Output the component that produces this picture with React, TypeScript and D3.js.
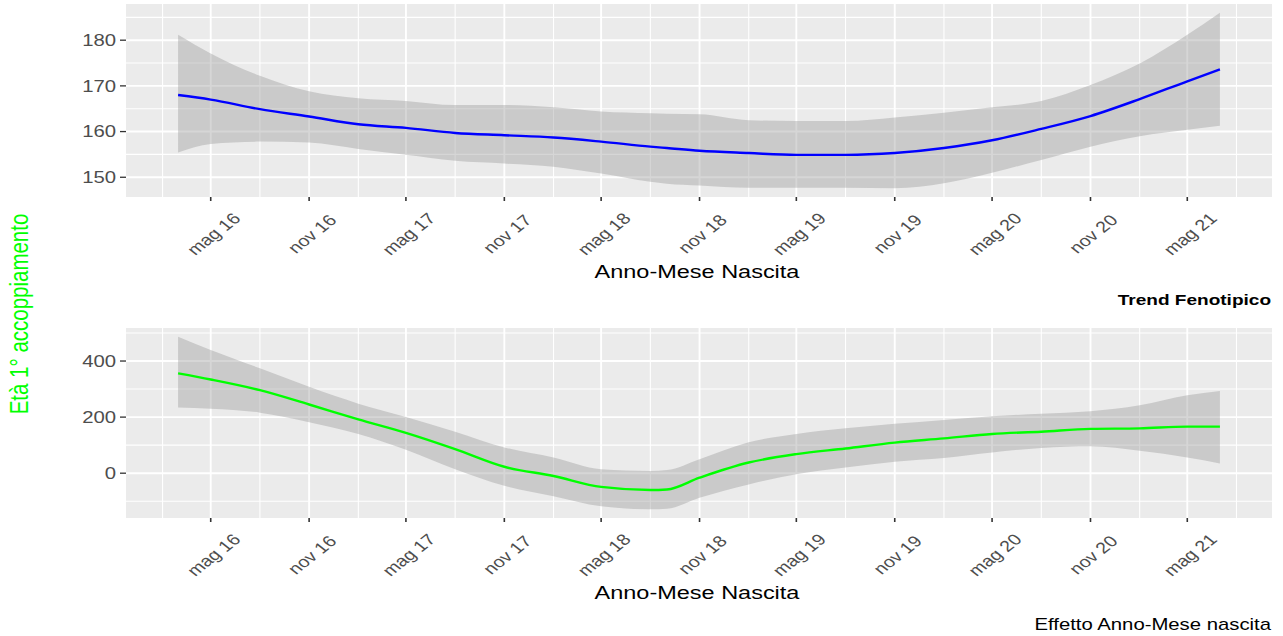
import React from "react";
import * as d3 from "d3";

// birth year-month sampled along the smoothed curves
const months = [
  "2016-03", "2016-05", "2016-08", "2016-11", "2017-02", "2017-05", "2017-08", "2017-11",
  "2018-02", "2018-05", "2018-08", "2018-09", "2018-11", "2019-02", "2019-05", "2019-08",
  "2019-11", "2020-02", "2020-05", "2020-08", "2020-11", "2021-02", "2021-05", "2021-07",
];

// Trend Fenotipico
const trendFit = [168.0, 167.0, 164.9, 163.3, 161.6, 160.8, 159.7, 159.2, 158.7, 157.8, 156.7, 156.4, 155.8, 155.3, 154.9, 154.9, 155.3, 156.4, 158.1, 160.6, 163.4, 167.1, 171.0, 173.6];
const trendUpper = [181.2, 177.1, 172.2, 168.8, 167.3, 166.7, 165.8, 165.8, 165.3, 164.4, 164.0, 163.9, 163.8, 162.5, 162.3, 162.3, 163.1, 164.1, 165.3, 166.7, 170.2, 174.9, 181.2, 186.0];
const trendLower = [155.4, 157.3, 157.8, 157.6, 156.2, 154.9, 153.6, 153.0, 152.3, 150.8, 149.0, 148.6, 148.2, 147.7, 147.7, 147.7, 147.6, 148.7, 151.0, 153.8, 156.7, 159.0, 160.4, 161.3];
const trendTicks = [150, 160, 170, 180];
const trendMinor = [145, 155, 165, 175, 185];

// Effetto Anno-Mese nascita
const effFit = [356, 334, 296, 245, 192, 144, 86, 23, -10, -49, -60, -58, -16, 38, 68, 88, 109, 124, 140, 148, 158, 160, 166, 166];
const effUpper = [487, 439, 374, 308, 248, 200, 148, 92, 56, 14, 8, 11, 50, 110, 140, 160, 176, 190, 203, 212, 221, 242, 278, 293];
const effLower = [234, 230, 216, 182, 140, 84, 14, -45, -82, -118, -129, -127, -88, -40, -4, 20, 41, 54, 74, 90, 96, 80, 56, 35];
const effTicks = [0, 200, 400];
const effMinor = [-100, 100, 300, 500];

const xTicks = ["2016-05", "2016-11", "2017-05", "2017-11", "2018-05", "2018-11", "2019-05", "2019-11", "2020-05", "2020-11", "2021-05"];
const xMinor = ["2016-02", "2016-08", "2017-02", "2017-08", "2018-02", "2018-08", "2019-02", "2019-08", "2020-02", "2020-08", "2021-02", "2021-08"];
const monthNames = ["gen", "feb", "mar", "apr", "mag", "giu", "lug", "ago", "set", "ott", "nov", "dic"];

const W = 1283;
const H = 636;
const SX = 1.27; // the source image is stretched horizontally
const FONT = "'Liberation Sans', Arial, sans-serif";
const left = 126;
const right = 1272;

const parse = d3.timeParse("%Y-%m");
const dates = months.map((m) => parse(m) as Date);
const fmt = (d: Date) => `${monthNames[d.getMonth()]} ${String(d.getFullYear()).slice(2)}`;

const ext = d3.extent(dates) as [Date, Date];
const span = +ext[1] - +ext[0];
const x = d3
  .scaleTime()
  .domain([new Date(+ext[0] - span * 0.05), new Date(+ext[1] + span * 0.05)])
  .range([left, right]);

function SText({ x: tx, y: ty, rotate = 0, children, ...rest }: any) {
  return (
    <text transform={`translate(${tx},${ty}) scale(${SX},1) rotate(${rotate})`} {...rest}>
      {children}
    </text>
  );
}

function Panel({ top, bottom, fit, upper, lower, ticks, minor, color, title, caption, captionY, captionBold, captionSize }: any) {
  const lo = d3.min(lower as number[]) as number;
  const hi = d3.max(upper as number[]) as number;
  const pad = (hi - lo) * 0.05;
  const y = d3.scaleLinear().domain([lo - pad, hi + pad]).range([bottom, top]);

  const band = d3
    .area<number>()
    .x((_, i) => x(dates[i]))
    .y0((_, i) => y(lower[i]))
    .y1((_, i) => y(upper[i]))
    .curve(d3.curveMonotoneX);
  const line = d3
    .line<number>()
    .x((_, i) => x(dates[i]))
    .y((d) => y(d))
    .curve(d3.curveMonotoneX);

  return (
    <g>
      <rect x={left} y={top} width={right - left} height={bottom - top} fill="#EBEBEB" />
      {minor.map((v: number) => (
        <line key={"hm" + v} x1={left} x2={right} y1={y(v)} y2={y(v)} stroke="#fff" strokeWidth={1.1} />
      ))}
      {xMinor.map((m) => {
        const px = x(parse(m) as Date);
        return <line key={"vm" + m} x1={px} x2={px} y1={top} y2={bottom} stroke="#fff" strokeWidth={1.1} />;
      })}
      {ticks.map((v: number) => (
        <line key={"h" + v} x1={left} x2={right} y1={y(v)} y2={y(v)} stroke="#fff" strokeWidth={1.9} />
      ))}
      {xTicks.map((m) => {
        const px = x(parse(m) as Date);
        return <line key={"v" + m} x1={px} x2={px} y1={top} y2={bottom} stroke="#fff" strokeWidth={1.9} />;
      })}
      <path d={band(fit) || ""} fill="#999999" fillOpacity={0.4} />
      <path d={line(fit) || ""} fill="none" stroke={color} strokeWidth={2.4} />

      {ticks.map((v: number) => (
        <g key={"yt" + v}>
          <line x1={left - 6} x2={left} y1={y(v)} y2={y(v)} stroke="#333" strokeWidth={1.3} />
          <SText x={left - 10} y={y(v)} textAnchor="end" dominantBaseline="central" fontSize={16} fill="#4D4D4D" fontFamily={FONT}>
            {v}
          </SText>
        </g>
      ))}
      {xTicks.map((m) => {
        const d = parse(m) as Date;
        const px = x(d);
        return (
          <g key={"xt" + m}>
            <line x1={px} x2={px} y1={bottom} y2={bottom + 4} stroke="#333" strokeWidth={1.6} />
            <SText x={px + 3} y={bottom + 37} rotate={-45} textAnchor="middle" dominantBaseline="central" fontSize={15.5} fill="#4D4D4D" fontFamily={FONT}>
              {fmt(d)}
            </SText>
          </g>
        );
      })}
      <SText x={(left + right) / 2 - 2} y={bottom + 81} textAnchor="middle" fontSize={18.5} fill="#000" fontFamily={FONT}>
        {title}
      </SText>
      <SText x={right - 1} y={captionY} textAnchor="end" fontSize={captionSize} fontWeight={captionBold ? "bold" : "normal"} fill="#000" fontFamily={FONT}>
        {caption}
      </SText>
    </g>
  );
}

export default function App() {
  return (
    <svg width={W} height={H} style={{ position: "absolute", left: 0, top: 0, background: "#fff" }}>
      <Panel
        top={4}
        bottom={197}
        fit={trendFit}
        upper={trendUpper}
        lower={trendLower}
        ticks={trendTicks}
        minor={trendMinor}
        color="#0000FF"
        title="Anno-Mese Nascita"
        caption="Trend Fenotipico"
        captionY={305}
        captionSize={15}
        captionBold
      />
      <Panel
        top={328}
        bottom={518}
        fit={effFit}
        upper={effUpper}
        lower={effLower}
        ticks={effTicks}
        minor={effMinor}
        color="#00FF00"
        title="Anno-Mese Nascita"
        caption="Effetto Anno-Mese nascita"
        captionY={630}
        captionSize={16}
      />
      <SText x={19} y={314} rotate={-90} textAnchor="middle" dominantBaseline="central" fontSize={20.5} fill="#00FF00" fontFamily={FONT}>
        Età 1° accoppiamento
      </SText>
    </svg>
  );
}
